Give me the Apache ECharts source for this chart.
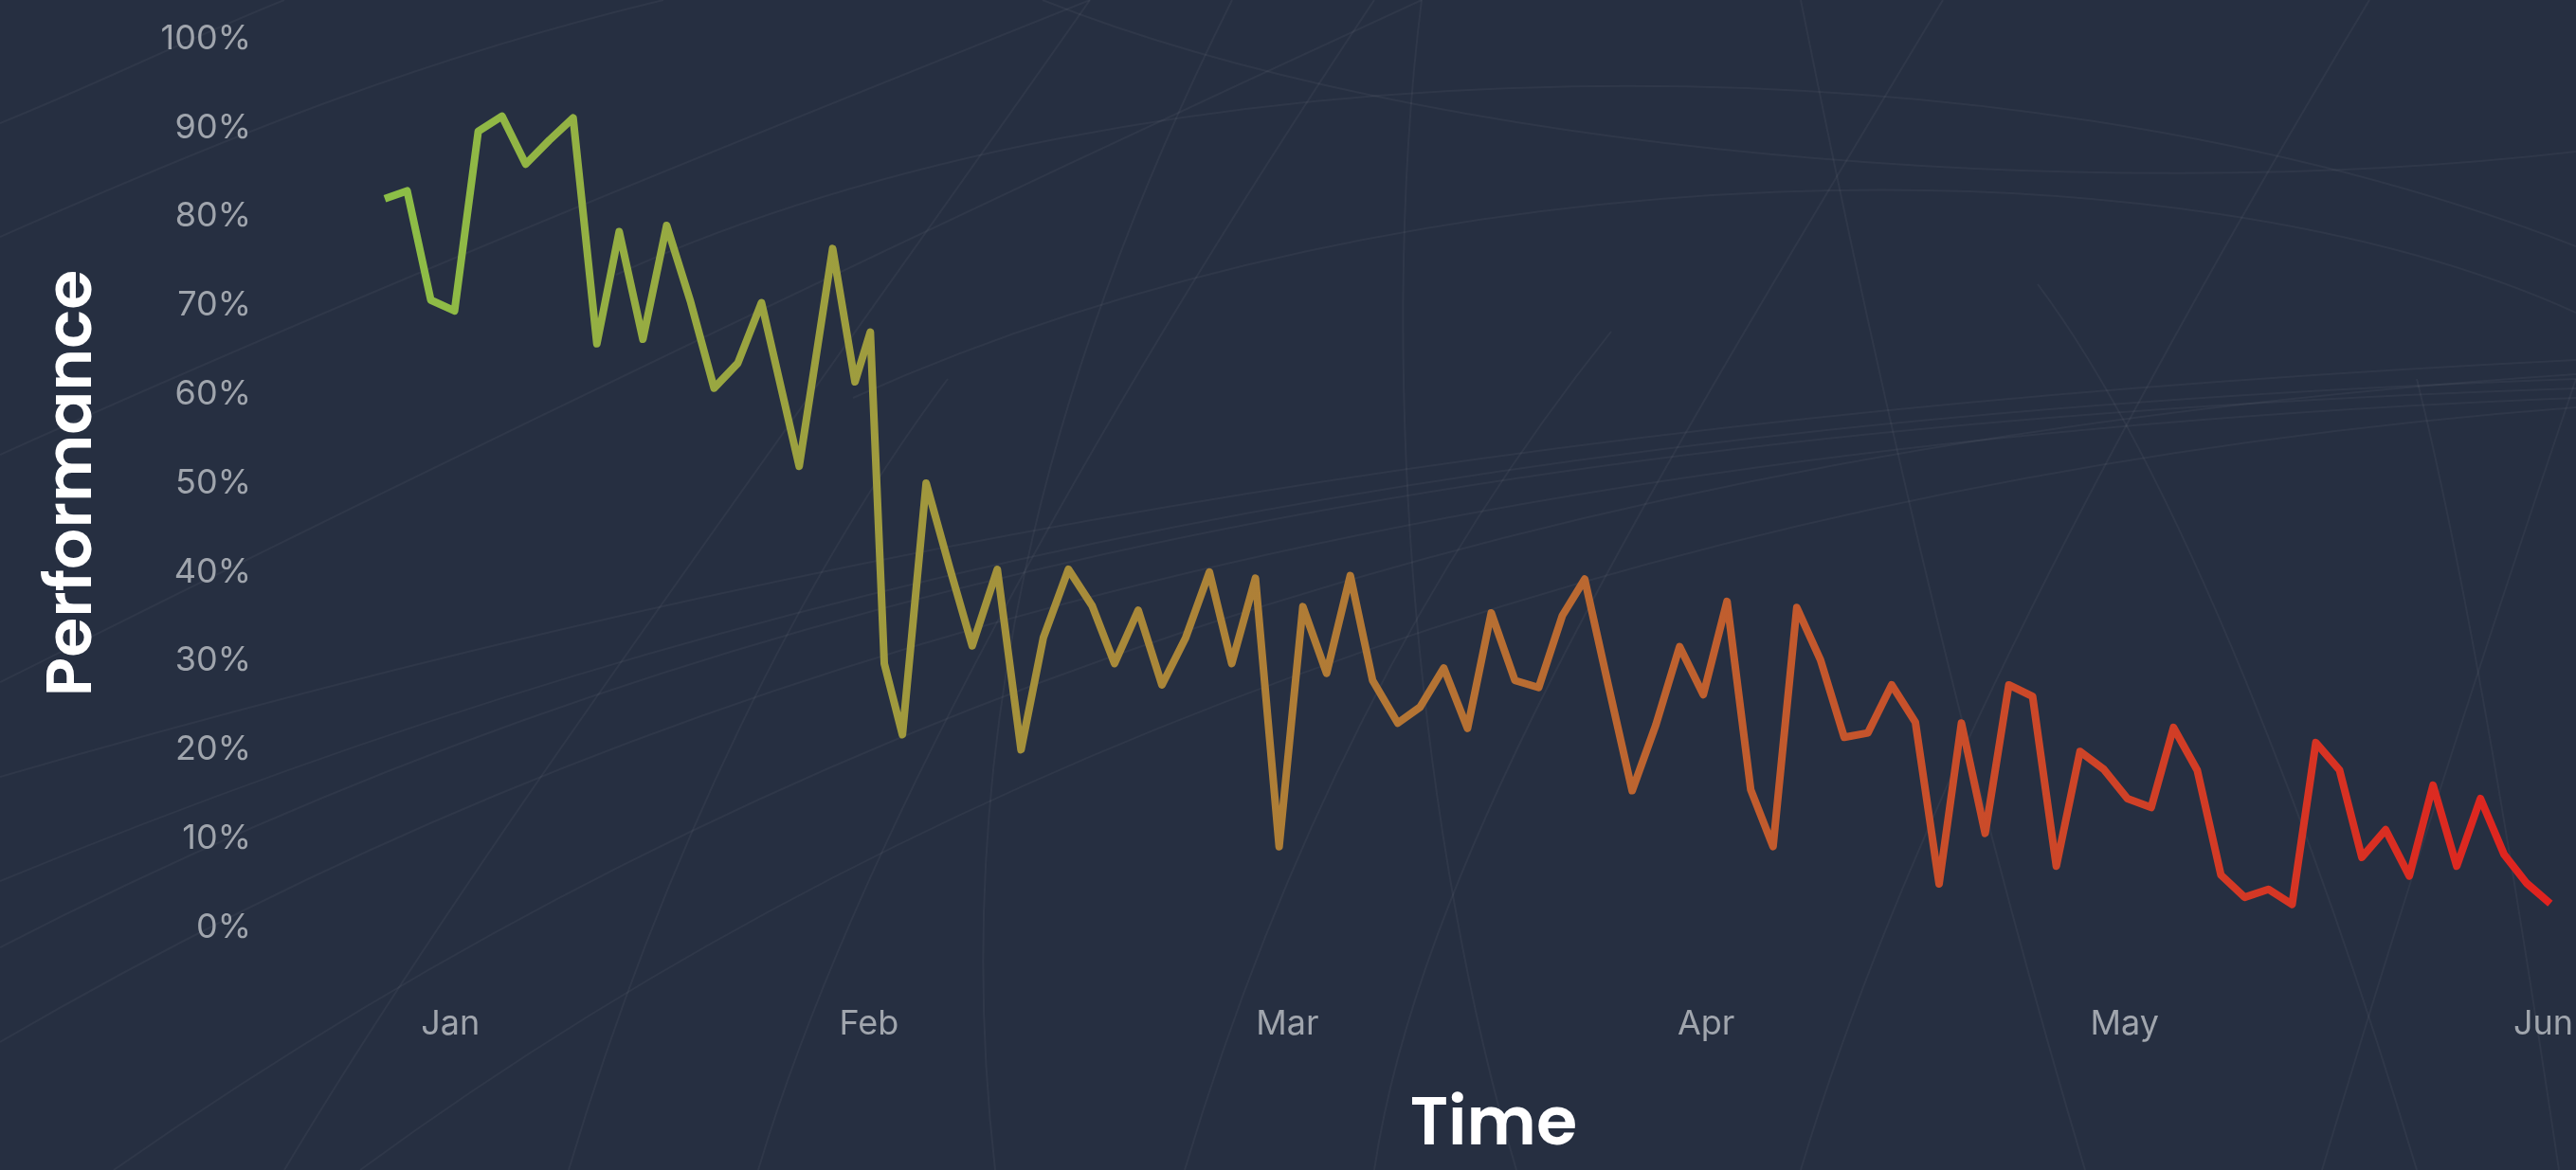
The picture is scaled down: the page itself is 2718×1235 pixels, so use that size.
<!DOCTYPE html>
<html>
<head>
<meta charset="utf-8">
<script src="https://cdn.jsdelivr.net/npm/echarts@6.0.0/dist/echarts.min.js"></script>
<style>
  html, body { margin: 0; padding: 0; background: #262f41; }
  #chart { width: 2718px; height: 1235px; }
</style>
</head>
<body>
<div id="chart"></div>
<script>
// month labels sit every 30 "days" on the x axis
const monthLabels = ['Jan', 'Feb', 'Mar', 'Apr', 'May', 'Jun']
const monthDays = [0, 30, 60, 90, 120, 150]

const days = [
  -4.7, -3.1, -1.4, 0.3, 2.0, 3.7, 5.4, 7.1, 8.8, 10.5, 12.1, 13.8, 15.5, 17.2, 18.9, 20.6,
  22.3, 25.0, 27.4, 29.0, 30.1, 31.1, 32.4, 34.1, 35.8, 37.4, 39.2, 40.9, 42.5, 44.3, 46.0, 47.6,
  49.3, 51.0, 52.7, 54.4, 56.0, 57.7, 59.4, 61.1, 62.8, 64.5, 66.1, 67.9, 69.5, 71.2, 72.9, 74.6,
  76.3, 78.0, 79.7, 81.3, 83.0, 84.7, 86.4, 88.1, 89.8, 91.5, 93.2, 94.8, 96.5, 98.2, 99.9, 101.6, 103.3,
  105.0, 106.7, 108.3, 110.0, 111.7, 113.4, 115.1, 116.8, 118.5, 120.2, 121.9, 123.5, 125.2, 126.9,
  128.6, 130.3, 132.0, 133.7, 135.4, 137.0, 138.7, 140.4, 142.1, 143.8, 145.5, 147.2, 148.8, 150.5
]

const performance = [
  82.0, 82.9, 70.6, 69.4, 89.6, 91.3, 85.9, 88.6, 91.1, 65.7, 78.3, 66.2, 79.0, 70.5, 60.7, 63.5,
  70.3, 51.9, 76.4, 61.4, 67.0, 29.7, 21.7, 50.0, 40.4, 31.7, 40.3, 20.0, 32.6, 40.3, 36.2, 29.7,
  35.7, 27.3, 32.6, 40.0, 29.7, 39.3, 9.1, 36.1, 28.6, 39.6, 27.8, 23.0, 24.8, 29.2, 22.4, 35.4,
  27.8, 27.0, 35.1, 39.2, 27.2, 15.4, 22.8, 31.6, 26.2, 36.7, 15.5, 9.1, 36.0, 30.1, 21.4, 21.9, 27.3,
  23.1, 4.9, 23.0, 10.6, 27.3, 26.0, 6.9, 19.8, 17.8, 14.5, 13.5, 22.5, 17.7, 5.9,
  3.4, 4.3, 2.6, 20.8, 17.7, 7.9, 11.0, 5.8, 16.0, 6.9, 14.5, 8.2, 5.0, 2.7
]

// faint decorative strokes in the background (x1, y1, cpx1, cpy1, cpx2, cpy2, x2, y2)
const decoCurves = [
  [0, 1000, 700, 640, 1500, 450, 2718, 410],
  [0, 930, 800, 600, 1600, 440, 2718, 400],
  [0, 1100, 650, 720, 1450, 470, 2718, 420],
  [120, 1235, 800, 760, 1600, 470, 2718, 395],
  [380, 1235, 1000, 780, 1800, 500, 2718, 430],
  [0, 820, 900, 560, 1700, 430, 2718, 380],
  [650, 290, 1200, 40, 2100, 20, 2718, 260],
  [900, 420, 1500, 150, 2300, 140, 2718, 330],
  [1100, 0, 1500, 160, 2200, 220, 2718, 160],
  [0, 250, 250, 140, 450, 60, 700, 0],
  [0, 480, 400, 300, 800, 140, 1150, 0],
  [0, 720, 500, 470, 1000, 230, 1500, 0],
  [0, 130, 100, 90, 200, 40, 300, 0],
  [300, 1235, 500, 900, 800, 500, 1150, 0],
  [800, 1235, 900, 900, 1150, 450, 1450, 0],
  [1050, 1235, 1000, 800, 1100, 400, 1300, 0],
  [1450, 1235, 1500, 900, 1750, 500, 2050, 0],
  [1600, 1235, 1500, 900, 1450, 400, 1500, 0],
  [1900, 1235, 2000, 900, 2200, 500, 2500, 0],
  [2200, 1235, 2100, 900, 2000, 500, 1900, 0],
  [2450, 1235, 2550, 900, 2650, 600, 2718, 400],
  [2550, 1235, 2450, 900, 2300, 500, 2150, 300],
  [2700, 1235, 2650, 900, 2600, 600, 2550, 400],
  [1250, 1235, 1350, 900, 1500, 600, 1700, 350],
  [600, 1235, 700, 900, 850, 600, 1000, 400]
]

const chart = echarts.init(document.getElementById('chart'))

const axisTextColor = '#a0a5ad'
const titleFont = 'Poppins, "Open Sans", sans-serif'

const option = {
  backgroundColor: '#262f41',
  animation: false,
  graphic: decoCurves.map(c => ({
    type: 'bezierCurve',
    z: 0,
    silent: true,
    shape: { x1: c[0], y1: c[1], cpx1: c[2], cpy1: c[3], cpx2: c[4], cpy2: c[5], x2: c[6], y2: c[7] },
    style: { stroke: 'rgba(255,255,255,0.045)', lineWidth: 2, fill: null }
  })),
  grid: {
    left: 406,
    right: 25,
    top: 41,
    bottom: 256
  },
  xAxis: {
    type: 'value',
    min: -4.7,
    max: 150.5,
    name: 'Time',
    nameLocation: 'middle',
    nameGap: 176,
    nameTextStyle: {
      color: '#ffffff',
      fontFamily: titleFont,
      fontWeight: 600,
      fontSize: 70,
      padding: [0, 0, 0, 55]
    },
    axisLine: { show: false },
    axisTick: { show: false },
    splitLine: { show: false },
    axisLabel: {
      customValues: monthDays,
      formatter: v => monthLabels[monthDays.indexOf(v)] || '',
      color: axisTextColor,
      fontFamily: 'Inter',
      fontSize: 36,
      margin: 84
    }
  },
  yAxis: {
    type: 'value',
    min: 0,
    max: 100,
    interval: 10,
    name: 'Performance',
    nameLocation: 'middle',
    nameRotate: 90,
    nameGap: 293,
    nameTextStyle: {
      color: '#ffffff',
      fontFamily: titleFont,
      fontWeight: 600,
      fontSize: 68
    },
    axisLine: { show: false },
    axisTick: { show: false },
    splitLine: { show: false },
    axisLabel: {
      formatter: '{value}%',
      color: axisTextColor,
      fontFamily: 'Inter',
      fontSize: 36,
      margin: 141
    }
  },
  series: [
    {
      type: 'line',
      data: days.map((d, i) => [d, performance[i]]),
      symbol: 'none',
      clip: false,
      lineStyle: {
        width: 8,
        join: 'round',
        color: new echarts.graphic.LinearGradient(0, 0, 1, 0, [
          { offset: 0, color: '#8cbf47' },
          { offset: 1, color: '#e0221f' }
        ])
      }
    }
  ]
}

chart.setOption(option)
</script>
</body>
</html>
